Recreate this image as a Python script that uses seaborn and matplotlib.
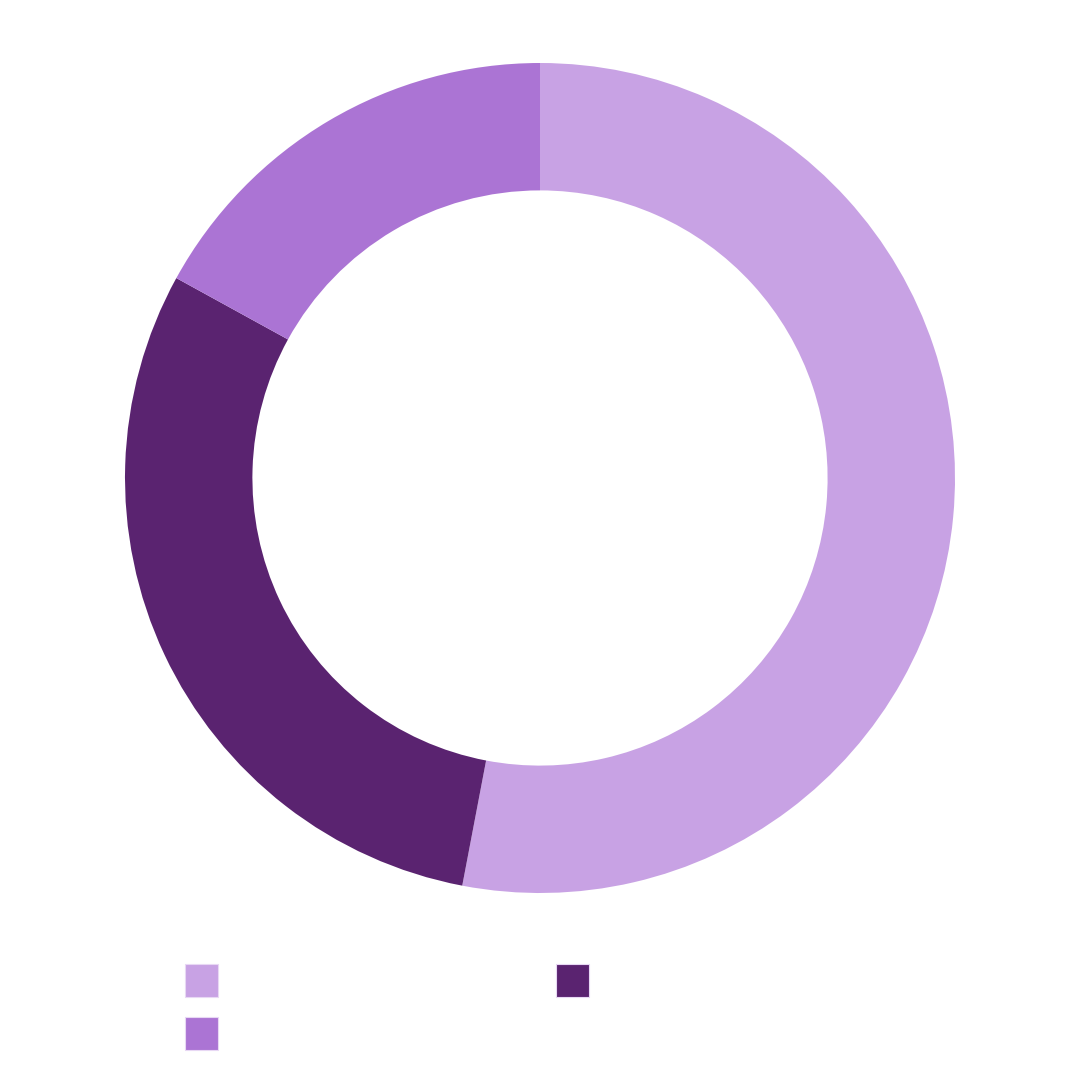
import matplotlib
matplotlib.use("Agg")
import matplotlib.pyplot as plt
import seaborn as sns
from matplotlib.patches import Patch

sns.set_theme(style="white")
plt.rcParams['font.family'] = ['DejaVu Sans']

# Data (clockwise from 12 o'clock)
categories = ["", "", ""]
values = [53, 30, 17]
colors = ["#C8A2E4", "#5A2370", "#AB74D4"]

fig = plt.figure(figsize=(10.8, 10.8), dpi=100)
fig.patch.set_facecolor("white")
ax = fig.add_axes([125 / 1080, 187 / 1080, 830 / 1080, 830 / 1080])
ax.pie(values, colors=colors, startangle=90, counterclock=False, radius=1.0,
       wedgeprops=dict(width=0.307, edgecolor="none", linewidth=0))
ax.set_xlim(-1, 1)
ax.set_ylim(-1, 1)
ax.set_aspect("equal")
ax.axis("off")

# Legend: row-major order light, dark / medium -> matplotlib column-major
handles = [Patch(facecolor=c, edgecolor="#E8D8F4", linewidth=0.8) for c in colors]
order = [0, 2, 1]
fig.legend([handles[i] for i in order], [categories[i] for i in order],
           ncol=2, loc="upper left",
           bbox_to_anchor=(185 / 1080, 1 - 964 / 1080),
           frameon=False, fontsize=12, borderpad=0, borderaxespad=0,
           handlelength=1.98, handleheight=2.67, handletextpad=0,
           labelspacing=1.2, columnspacing=20.3)

fig.savefig("out.png", dpi=100, facecolor="white")
